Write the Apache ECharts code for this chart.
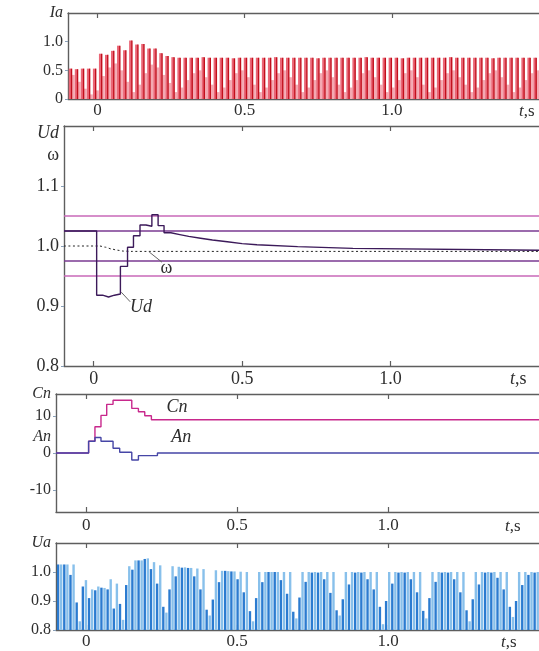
<!DOCTYPE html>
<html><head><meta charset="utf-8">
<script src="https://cdn.jsdelivr.net/npm/echarts@6/dist/echarts.min.js"></script>
<style>html,body{margin:0;padding:0;background:#fff}#c{width:539px;height:651px}</style>
</head><body><div id="c"></div>
<script>
// ---------- data ----------
const sampleStart = -0.093, sampleStep = 0.0205;
const xTickVals = [0, 0.5, 1.0];

const iaPeak = [0.53,0.52,0.53,0.53,0.53,0.79,0.77,0.84,0.93,0.85,
 1.02,0.95,0.96,0.88,0.88,0.80,0.75,0.73,0.72,0.72,
 0.72,0.72,0.73,0.72,0.72,0.72,0.72,0.71,0.72,0.72,
 0.72,0.72,0.72,0.72,0.73,0.72,0.72,0.72,0.72,0.72,
 0.72,0.71,0.72,0.72,0.72,0.72,0.72,0.72,0.72,0.73,
 0.72,0.72,0.72,0.72,0.72,0.71,0.72,0.72,0.72,0.72,
 0.72,0.72,0.72,0.73,0.72,0.72,0.72,0.72,0.72,0.72,
 0.71,0.72,0.72,0.72,0.72,0.72,0.72,0.72];
const iaLow = [0.42,0.30,0.18,0.08,0.15,0.40,0.55,0.62,0.50,0.30,
 0.12,0.25,0.45,0.60,0.55,0.42,0.28,0.12,0.20,0.33,
 0.45,0.50,0.38,0.25,0.12,0.20,0.33,0.45,0.50,0.38,
 0.25,0.12,0.20,0.33,0.45,0.50,0.38,0.25,0.12,0.20,
 0.33,0.45,0.50,0.38,0.25,0.12,0.20,0.33,0.45,0.50,
 0.38,0.25,0.12,0.20,0.33,0.45,0.50,0.38,0.25,0.12,
 0.20,0.33,0.45,0.50,0.38,0.25,0.12,0.20,0.33,0.45,
 0.50,0.38,0.25,0.12,0.20,0.33,0.45,0.50];

const udT = [-0.1, 0.01, 0.03, 0.05, 0.07, 0.09, 0.114, 0.134, 0.156, 0.176, 0.196, 0.217, 0.237, 0.26, 0.29, 0.32, 0.36, 0.40, 0.45, 0.50, 0.55, 0.687, 0.873, 1.5];
const udV = [1.025, 0.918, 0.915, 0.918, 0.920, 0.966, 0.998, 1.017, 1.035, 1.033, 1.052, 1.034, 1.022, 1.019, 1.016, 1.013, 1.010, 1.007, 1.004, 1.002, 0.999, 0.996, 0.993, 0.993];
const omegaT = [-0.1, 0.02, 0.04, 0.06, 0.08, 0.10, 0.13, 1.5];
const omegaV = [1.0, 1.0, 0.998, 0.995, 0.993, 0.9915, 0.991, 0.991];
const limitLevels = [1.05, 1.025, 0.975, 0.95];

const cnT = [-0.1, 0.008, 0.029, 0.049, 0.068, 0.089, 0.151, 0.173, 0.194, 0.216, 1.5];
const cnV = [0, 3.2, 7.1, 10.2, 13.2, 14.3, 12.1, 11.2, 10.1, 9.0, 9.0];
const anT = [-0.1, 0.008, 0.029, 0.049, 0.089, 0.111, 0.151, 0.173, 0.236, 1.5];
const anV = [0, 3.2, 4.2, 3.2, 1.3, 0.2, -1.9, -0.7, 0, 0];

const uaDark = [1.026,1.026,0.990,0.895,0.950,0.910,0.937,0.946,0.940,0.874,
 0.890,0.955,1.008,1.040,1.045,1.010,0.960,0.880,0.940,0.985,
 1.015,1.014,0.985,0.940,0.870,0.905,0.965,1.004,1.002,0.975,
 0.930,0.865,0.910,0.965,1.000,1.000,0.972,0.925,0.863,0.912,
 0.966,0.998,0.998,0.975,0.928,0.868,0.906,0.957,0.998,0.998,
 0.975,0.940,0.880,0.900,0.960,0.998,0.998,0.975,0.930,0.866,
 0.910,0.966,0.998,0.998,0.975,0.930,0.868,0.906,0.957,0.998,
 0.998,0.980,0.940,0.880,0.900,0.955,0.990,0.998];
const uaLight = [1.026,1.026,1.026,0.830,0.972,0.940,0.950,0.945,0.975,0.960,
 0.835,1.020,1.040,1.040,1.047,1.034,1.023,0.860,1.020,1.018,
 1.016,1.014,1.012,1.010,0.850,1.006,1.004,1.003,1.002,1.001,
 1.000,0.830,1.000,1.000,1.000,1.000,1.000,1.000,0.840,1.000,
 1.000,1.000,1.000,1.000,1.000,0.850,1.000,1.000,1.000,1.000,
 1.000,1.000,0.820,1.000,1.000,1.000,1.000,1.000,1.000,0.840,
 1.000,1.000,1.000,1.000,1.000,1.000,0.830,1.000,1.000,1.000,
 1.000,1.000,1.000,0.845,1.000,1.000,1.000,1.000];

// ---------- helpers ----------
const FONT = '"Liberation Serif","DejaVu Serif",serif';
const TXT = '#2e2e2e';
const AX = '#5e5e5e';
const pairs = (ts, vs) => ts.map((t, i) => [t, vs[i]]);
const sampled = (vals, shift) => vals.map((v, i) => [sampleStart + i * sampleStep + shift, v]);

function xAxesFor(gi, fs, margin, nameGap, namePad) {
  const common = {type: 'value', gridIndex: gi, min: -0.1, max: 1.5, splitLine: {show: false},
    axisLine: {show: true, onZero: false, lineStyle: {color: AX, width: 1.4}}};
  return [
    Object.assign({}, common, {position: 'bottom',
      axisTick: {show: true, inside: true, length: 5, customValues: xTickVals, lineStyle: {color: AX, width: 1.2}},
      axisLabel: {show: true, customValues: xTickVals, margin: margin, fontFamily: FONT, fontSize: fs, color: TXT,
        formatter: v => (Math.abs(v) < 1e-9 ? '0' : v.toFixed(1))},
      name: '{it|t},s', nameLocation: 'end', nameGap: nameGap,
      nameTextStyle: {fontFamily: FONT, fontSize: fs, color: TXT, align: 'left', verticalAlign: 'top', padding: [namePad, 0, 0, 0],
        rich: {it: {fontFamily: FONT, fontSize: fs, fontStyle: 'italic', color: TXT}}}
    }),
    Object.assign({}, common, {position: 'top',
      axisTick: {show: true, inside: true, length: 5, customValues: xTickVals, lineStyle: {color: AX, width: 1.2}},
      axisLabel: {show: false}})
  ];
}
function yAxisFor(gi, min, max, labelVals, tickVals, fs, fmt) {
  return {type: 'value', gridIndex: gi, min: min, max: max, position: 'left', splitLine: {show: false},
    axisLine: {show: true, onZero: false, lineStyle: {color: AX, width: 1.4}},
    axisTick: {show: true, inside: false, length: 3, customValues: tickVals, lineStyle: {color: '#8aa0b8', width: 1}},
    axisLabel: {show: true, customValues: labelVals, margin: 5, fontFamily: FONT, fontSize: fs, color: TXT, formatter: fmt,
      rich: {it: {fontFamily: FONT, fontSize: fs, fontStyle: 'italic', color: TXT}}}};
}
function barSeries(xi, yi, data, base, width, color) {
  return {type: 'custom', xAxisIndex: xi, yAxisIndex: yi, silent: true, encode: {x: 0, y: 1}, data: data,
    renderItem: function (params, api) {
      const t = api.value(0), v = api.value(1);
      const top = api.coord([t, v]);
      const bot = api.coord([t, base]);
      return {type: 'rect', shape: {x: top[0] - width / 2, y: top[1], width: width, height: bot[1] - top[1]}, style: {fill: color}};
    }};
}
function stepLine(xi, yi, data, color, width, extra) {
  return Object.assign({type: 'line', xAxisIndex: xi, yAxisIndex: yi, data: data, step: 'end', showSymbol: false,
    symbol: 'none', silent: true, lineStyle: {color: color, width: width}}, extra || {});
}
const annotLabel = (fs, italic) => ({show: true, position: 'inside', fontFamily: FONT, fontSize: fs, color: TXT, fontStyle: italic ? 'italic' : 'normal'});

const limitColors = ['#c868b8', '#7a3a92', '#7a3a92', '#c868b8'];

// ---------- option ----------
const option = {
  animation: false,
  backgroundColor: '#fff',
  grid: [
    {left: 68, top: 13, width: 474, height: 86},
    {left: 64, top: 126, width: 480, height: 240},
    {left: 56, top: 394, width: 485, height: 118},
    {left: 56, top: 543, width: 485, height: 89}
  ],
  xAxis: [].concat(
    xAxesFor(0, 17, 3, -20, 4),
    xAxesFor(1, 18, 4, -29, 4),
    xAxesFor(2, 17, 5, -34, 6),
    xAxesFor(3, 17, 3, -38, 4)
  ),
  yAxis: [
    yAxisFor(0, 0, 1.5, [0, 0.5, 1.0, 1.5], [0, 0.5, 1.0], 16,
      v => v > 1.4 ? '{it|Ia}' : (v < 1e-9 ? '0' : v.toFixed(1))),
    yAxisFor(1, 0.8, 1.2, [0.8, 0.9, 1.0, 1.1, 1.152, 1.188], [0.8, 0.9, 1.0, 1.1], 18,
      v => v > 1.18 ? '{it|Ud}' : (v > 1.14 ? 'ω' : v.toFixed(1))),
    yAxisFor(2, -16, 16, [-10, 0, 4.3, 10, 16], [-10, 0, 10], 16,
      v => v > 15 ? '{it|Cn}' : (v > 4 && v < 5 ? '{it|An}' : String(Math.round(v)))),
    yAxisFor(3, 0.8, 1.1, [0.8, 0.9, 1.0, 1.1], [0.8, 0.9, 1.0], 16,
      v => v > 1.05 ? '{it|Ua}' : v.toFixed(1))
  ],
  series: [
    // panel 1: Ia
    barSeries(0, 0, sampled(iaLow, 0.011), 0, 2.8, '#f4a9b2'),
    barSeries(0, 0, sampled(iaPeak, 0), 0, 2.6, '#ea6676'),
    barSeries(0, 0, sampled(iaPeak, 0.005), 0, 1.4, '#c20f1c'),
    // panel 2: limits, omega, Ud
    ...limitLevels.map((lv, k) => ({type: 'line', xAxisIndex: 2, yAxisIndex: 1, silent: true, showSymbol: false, symbol: 'none',
      data: [[-0.1, lv], [1.5, lv]], lineStyle: {color: limitColors[k], width: 1.4}})),
    {type: 'line', xAxisIndex: 2, yAxisIndex: 1, silent: true, showSymbol: false, symbol: 'none', smooth: 0.3, smoothMonotone: 'x',
      data: pairs(omegaT, omegaV), lineStyle: {color: '#222', width: 1, type: [2, 2.5]},
      markPoint: {silent: true, symbol: 'circle', symbolSize: 1, itemStyle: {color: 'rgba(0,0,0,0)'},
        label: annotLabel(18, false), data: [{coord: [0.245, 0.963], value: 'ω', label: {formatter: 'ω'}}]},
      markLine: {silent: true, symbol: ['none', 'none'], label: {show: false}, lineStyle: {color: '#666', width: 1, type: 'solid'},
        data: [[{coord: [0.187, 0.990]}, {coord: [0.230, 0.973]}]]}},
    stepLine(2, 1, pairs(udT, udV), '#3c1a5a', 1.4, {
      markPoint: {silent: true, symbol: 'circle', symbolSize: 1, itemStyle: {color: 'rgba(0,0,0,0)'},
        label: annotLabel(18, true), data: [{coord: [0.159, 0.8975], value: 'Ud', label: {formatter: 'Ud'}}]},
      markLine: {silent: true, symbol: ['none', 'none'], label: {show: false}, lineStyle: {color: '#666', width: 1, type: 'solid'},
        data: [[{coord: [0.093, 0.923]}, {coord: [0.123, 0.907]}]]}}),
    // panel 3: Cn, An
    stepLine(4, 2, pairs(cnT, cnV), '#c8288c', 1.4, {
      markPoint: {silent: true, symbol: 'circle', symbolSize: 1, itemStyle: {color: 'rgba(0,0,0,0)'},
        label: annotLabel(18, true), data: [{coord: [0.301, 12.3], value: 'Cn', label: {formatter: 'Cn'}}]}}),
    stepLine(4, 2, pairs(anT, anV), '#4646a6', 1.4, {
      markPoint: {silent: true, symbol: 'circle', symbolSize: 1, itemStyle: {color: 'rgba(0,0,0,0)'},
        label: annotLabel(18, true), data: [{coord: [0.315, 4.2], value: 'An', label: {formatter: 'An'}}]}}),
    // panel 4: Ua
    barSeries(6, 3, sampled(uaLight, 0.0102), 0.8, 2.4, '#88c0eb'),
    barSeries(6, 3, sampled(uaDark, 0), 0.8, 2.4, '#2b7bd0')
  ]
};
const chart = echarts.init(document.getElementById('c'), null, {renderer: 'canvas'});
chart.setOption(option);
</script></body></html>
